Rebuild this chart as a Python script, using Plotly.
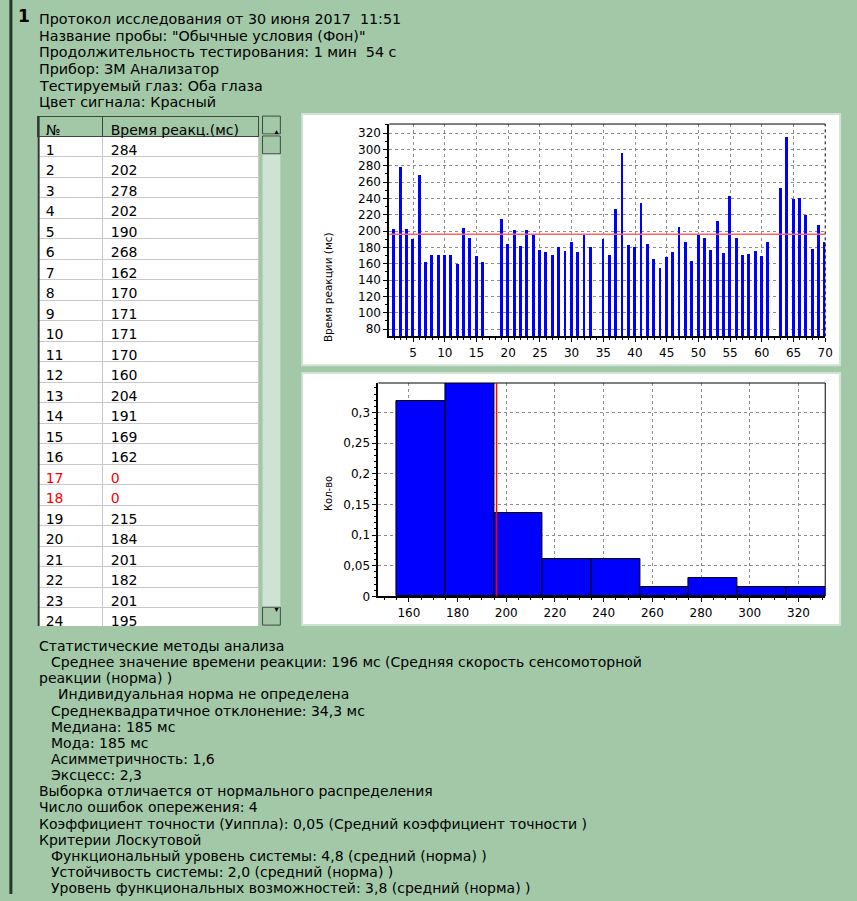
import plotly.graph_objects as go

# ---------------- data ----------------
trial_numbers = list(range(1, 71))
reaction_times = [284, 202, 278, 202, 190, 268, 162, 170, 171, 171,
                  170, 160, 204, 191, 169, 162, 0, 0, 215, 184,
                  201, 182, 201, 195, 177, 174, 171, 180, 176, 186,
                  174, 195, 180, 0, 190, 171, 227, 296, 183, 181,
                  234, 184, 166, 155, 168, 174, 205, 187, 163, 195,
                  192, 177, 212, 173, 243, 191, 171, 172, 176, 169,
                  186, 0, 253, 315, 239, 241, 220, 178, 207, 186]
mean_rt = 196

hist_bin_edges = [155, 175, 195, 215, 235, 255, 275, 295, 315, 335]
hist_fraction = [0.318, 0.348, 0.136, 0.061, 0.061, 0.015, 0.030, 0.015, 0.015]

table_header = ["№", "Время реакц.(мс)"]
table_rows_shown = 24

header_lines = [
    "Протокол исследования от 30 июня 2017\u00a0\u00a011:51",
    "Название пробы: \"Обычные условия (Фон)\"",
    "Продолжительность тестирования: 1 мин\u00a0\u00a054 с",
    "Прибор: ЗМ Анализатор",
    "Тестируемый глаз: Оба глаза",
    "Цвет сигнала: Красный",
]
stats_lines = [
    (0, "Статистические методы анализа"),
    (1, "Среднее значение времени реакции: 196 мс (Средняя скорость сенсомоторной"),
    (0, "реакции (норма) )"),
    (2, "Индивидуальная норма не определена"),
    (1, "Среднеквадратичное отклонение: 34,3 мс"),
    (1, "Медиана: 185 мс"),
    (1, "Мода: 185 мс"),
    (1, "Асимметричность: 1,6"),
    (1, "Эксцесс: 2,3"),
    (0, "Выборка отличается от нормального распределения"),
    (0, "Число ошибок опережения: 4"),
    (0, "Коэффициент точности (Уиппла): 0,05 (Средний коэффициент точности )"),
    (0, "Критерии Лоскутовой"),
    (1, "Функциональный уровень системы: 4,8 (средний (норма) )"),
    (1, "Устойчивость системы: 2,0 (средний (норма) )"),
    (1, "Уровень функциональных возможностей: 3,8 (средний (норма) )"),
]

# ---------------- helpers ----------------
W, H = 857, 901
BG = "#a2c8a8"
FONT = "DejaVu Sans"


def px(x):
    return x / W


def py(y):
    return 1 - y / H


bin_centers = [(a + b) / 2 for a, b in zip(hist_bin_edges[:-1], hist_bin_edges[1:])]
bin_widths = [b - a for a, b in zip(hist_bin_edges[:-1], hist_bin_edges[1:])]

fig = go.Figure()

# reaction time bars
fig.add_trace(go.Bar(x=trial_numbers, y=reaction_times, width=0.45,
                     marker=dict(color="#0000ff", line=dict(width=0)),
                     xaxis="x", yaxis="y", showlegend=False, hoverinfo="x+y"))

# histogram
fig.add_trace(go.Bar(x=bin_centers, y=hist_fraction, width=bin_widths,
                     marker=dict(color="#0000ff", line=dict(color="black", width=1)),
                     xaxis="x2", yaxis="y2", showlegend=False))

# table (first rows visible)
nums = [str(n) for n in trial_numbers[:table_rows_shown]]
vals = [str(v) for v in reaction_times[:table_rows_shown]]
colors = ["#ff0000" if v == 0 else "black" for v in reaction_times[:table_rows_shown]]
fig.add_trace(go.Table(
    domain=dict(x=[px(38), px(262)], y=[py(632), py(117)]),
    columnwidth=[66, 158],
    header=dict(values=table_header, fill_color=BG, line=dict(color="#3c4a3e", width=1),
                align="left", height=20,
                font=dict(family=FONT, size=14, color="black")),
    cells=dict(values=[nums, vals], fill_color="white", line=dict(color="#c8c8c8", width=1),
               align="left", height=20.5,
               font=dict(family=FONT, size=14, color=[colors, colors])),
))

shapes = []
# left dark border
shapes.append(dict(type="line", xref="paper", yref="paper", x0=px(11), x1=px(11), y0=0, y1=1,
                   line=dict(color="#24382a", width=3)))
# chart panels
for (x0, y0, x1, y1) in [(305, 115, 848, 368), (305, 376, 848, 630)]:
    shapes.append(dict(type="rect", xref="paper", yref="paper", layer="below",
                       x0=px(x0), x1=px(x1), y0=py(y1), y1=py(y0),
                       fillcolor="white", line=dict(color="#cfe2d3", width=2)))
# scrollbar
shapes.append(dict(type="rect", xref="paper", yref="paper", layer="below",
                   x0=px(265), x1=px(283), y0=py(630), y1=py(117),
                   fillcolor="#cfe3d4", line=dict(width=0)))
for (y0, y1) in [(117, 135), (137, 155), (612, 630)]:
    shapes.append(dict(type="rect", xref="paper", yref="paper", layer="below",
                       x0=px(265), x1=px(283), y0=py(y1), y1=py(y0),
                       fillcolor=BG, line=dict(color="#3c4a3e", width=1)))

# bar chart frame extras
shapes.append(dict(type="line", xref="x domain", yref="y domain", x0=0, x1=1, y0=1, y1=1,
                   line=dict(color="black", width=1)))
shapes.append(dict(type="line", xref="x domain", yref="y domain", x0=1, x1=1, y0=0, y1=1,
                   line=dict(color="black", width=1, dash="dot")))
shapes.append(dict(type="line", xref="x domain", yref="y", x0=0, x1=1, y0=mean_rt, y1=mean_rt,
                   line=dict(color="#ff6464", width=1.5)))
# histogram frame extras
shapes.append(dict(type="line", xref="x2 domain", yref="y2 domain", x0=0, x1=1, y0=1, y1=1,
                   line=dict(color="black", width=1)))
shapes.append(dict(type="line", xref="x2 domain", yref="y2 domain", x0=1, x1=1, y0=0, y1=1,
                   line=dict(color="black", width=1)))
shapes.append(dict(type="line", xref="x2", yref="y2 domain", x0=mean_rt, x1=mean_rt, y0=0, y1=1,
                   line=dict(color="#ff0000", width=1.5)))

annotations = []
annotations.append(dict(text="<b>1</b>", x=px(16), y=py(16), xref="paper", yref="paper",
                        xanchor="left", yanchor="middle", showarrow=False,
                        font=dict(family=FONT, size=17, color="black")))
for i, t in enumerate(header_lines):
    annotations.append(dict(text=t, x=px(37), y=py(19 + i * 16.8), xref="paper", yref="paper",
                            xanchor="left", yanchor="middle", showarrow=False,
                            font=dict(family=FONT, size=14.3, color="black")))
indent_px = {0: 37, 1: 49, 2: 57}
for i, (lvl, t) in enumerate(stats_lines):
    annotations.append(dict(text=t, x=px(indent_px[lvl]), y=py(651 + i * 16.27), xref="paper",
                            yref="paper", xanchor="left", yanchor="middle", showarrow=False,
                            font=dict(family=FONT, size=14, color="black")))
# scroll arrows
annotations.append(dict(text="▲", x=px(274), y=py(126), xref="paper", yref="paper",
                        showarrow=False, font=dict(size=7, color="black")))
annotations.append(dict(text="▼", x=px(274), y=py(621), xref="paper", yref="paper",
                        showarrow=False, font=dict(size=7, color="black")))
# axis titles
annotations.append(dict(text="Время реакции (мс)", x=px(331), y=py(232), xref="paper",
                        yref="paper", textangle=-90, showarrow=False,
                        font=dict(family=FONT, size=10.5, color="black")))
annotations.append(dict(text="Кол-во", x=px(331), y=py(497), xref="paper",
                        yref="paper", textangle=-90, showarrow=False,
                        font=dict(family=FONT, size=10, color="black")))

tickfont = dict(family=FONT, size=12, color="black")
axis_common = dict(showline=True, linecolor="black", linewidth=2, ticks="outside", ticklen=4,
                   tickcolor="black", showgrid=True, gridcolor="#8c8c8c", griddash="3px,3px",
                   gridwidth=1, zeroline=False, tickfont=tickfont, fixedrange=True)

fig.update_layout(
    width=W, height=H, autosize=False,
    margin=dict(l=0, r=0, t=0, b=0),
    paper_bgcolor=BG, plot_bgcolor="white",
    separators=", ",
    showlegend=False,
    bargap=0,
    xaxis=dict(domain=[px(393), px(833)], range=[1.25, 70], anchor="y", tick0=0, dtick=5,
               minor=dict(ticks="outside", ticklen=2, dtick=1, tick0=0, tickcolor="black",
                          showgrid=False),
               **axis_common),
    yaxis=dict(domain=[py(339), py(125)], range=[71, 331], anchor="x", tick0=0, dtick=20,
               minor=dict(ticks="outside", ticklen=2, dtick=10, tick0=0, tickcolor="black",
                          showgrid=False),
               **axis_common),
    xaxis2=dict(domain=[px(382), px(833)], range=[147.5, 331], anchor="y2", tick0=0, dtick=20,
                minor=dict(ticks="outside", ticklen=2, dtick=5, tick0=0, tickcolor="black",
                           showgrid=False),
                **axis_common),
    yaxis2=dict(domain=[py(601), py(386)], range=[0, 0.348], anchor="x2", tick0=0, dtick=0.05,
                minor=dict(ticks="outside", ticklen=2, dtick=0.01, tick0=0, tickcolor="black",
                           showgrid=False),
                **axis_common),
    shapes=shapes,
    annotations=annotations,
)

# dark left edge of the table
fig.add_shape(type="line", xref="paper", yref="paper", x0=px(39), x1=px(39),
              y0=py(631), y1=py(117), line=dict(color="#2c3a2e", width=2))

fig.write_html("out.html", config={"displayModeBar": False},
               post_script="document.body.style.margin='0';document.body.style.padding='0';"
                           "document.body.style.overflow='hidden';")
